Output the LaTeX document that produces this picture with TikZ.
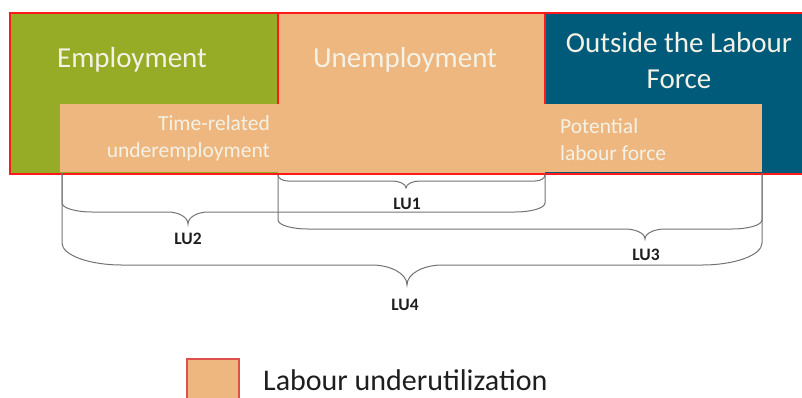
\documentclass[tikz,border=0pt]{standalone}
\usepackage{fontspec}
\setmainfont{Carlito}
\definecolor{empgreen}{HTML}{97AC26}
\definecolor{lupeach}{HTML}{EEB77F}
\definecolor{olfblue}{HTML}{005B7B}
\definecolor{boxred}{HTML}{FF1A1A}
\definecolor{legred}{HTML}{E0504A}
\definecolor{brgray}{HTML}{737373}
\definecolor{boxtext}{HTML}{F4F2E6}
\definecolor{legtext}{HTML}{1E1E1E}
\newcommand{\lubr}[9]{%
 \draw[bracepath] (#1,#3) -- (#1,{#4-#5})
   .. controls (#1,{#4-0.45*#5}) and ({#1+0.45*#6},#4) .. ({#1+#6},#4)
   -- ({#7-#9},#4)
   .. controls ({#7-0.5*#9},#4) and (#7,{#4+0.4*#8}) .. (#7,{#4+#8})
   .. controls (#7,{#4+0.4*#8}) and ({#7+0.5*#9},#4) .. ({#7+#9},#4)
   -- ({#2-#6},#4)
   .. controls ({#2-0.45*#6},#4) and (#2,{#4-0.45*#5}) .. (#2,{#4-#5})
   -- (#2,#3);}
\begin{document}
\begin{tikzpicture}[x=1pt,y=-1pt,
  area/.style={draw=none, inner sep=0pt, outer sep=0pt, anchor=north west},
  title/.style={text=boxtext, font=\fontsize{29}{36}\selectfont, inner sep=0pt, anchor=base},
  subtitle/.style={text=boxtext, font=\fontsize{21.5}{27}\selectfont, inner sep=0pt},
  redline/.style={draw=boxred, line width=2pt},
  bracepath/.style={draw=brgray, line width=1pt},
  lulab/.style={text=legtext, font=\fontsize{17.5}{20}\selectfont\bfseries, inner sep=0pt, anchor=base}
]
\useasboundingbox (0,0) rectangle (802,397);
% areas
\node[area, fill=empgreen, minimum width=268pt, minimum height=161pt] (emp) at (10,13) {};
\node[area, fill=lupeach, minimum width=267pt, minimum height=161pt] (unemp) at (278,13) {};
\node[area, fill=olfblue, minimum width=262pt, minimum height=161pt] (olf) at (545,13) {};
\node[area, fill=lupeach, minimum width=702pt, minimum height=68pt] (band) at (60,104) {};
% red outlines
\draw[redline] (10,13) rectangle (808,174);
\draw[redline] (278,13) -- (278,104);
\draw[redline] (545,13) -- (545,104);
% titles
\node[title] (templ) at (132,67) {Employment};
\node[title] (tunemp) at (405,67) {Unemployment};
\node[title] (tolf1) at (679,52) {Outside the Labour};
\node[title] (tolf2) at (679,88) {Force};
\node[subtitle, anchor=base east] (ttr1) at (270,130) {Time-related};
\node[subtitle, anchor=base east] (ttr2) at (270,157) {underemployment};
\node[subtitle, anchor=base west] (tplf1) at (560,133) {Potential};
\node[subtitle, anchor=base west] (tplf2) at (560,160) {labour force};
% braces
\lubr{278}{545}{175}{181}{6}{10}{406}{7}{14}
\lubr{62}{545}{173}{212}{9}{30}{188}{12}{20}
\lubr{278}{762}{175}{229}{9}{30}{645}{10}{20}
\lubr{62}{762}{173}{265}{22}{60}{407}{20}{35}
\node[lulab] (lu1) at (407,209) {LU1};
\node[lulab] (lu2) at (188,244) {LU2};
\node[lulab] (lu3) at (646,260) {LU3};
\node[lulab] (lu4) at (405,310) {LU4};
% legend
\node[area, fill=lupeach, draw=legred, line width=1.5pt, minimum width=52pt, minimum height=50pt] (legbox) at (187,359) {};
\node[text=legtext, font=\fontsize{30}{34}\selectfont, inner sep=0pt, anchor=base west] (legtxt) at (263,390) {Labour underutilization};
\end{tikzpicture}
\end{document}
